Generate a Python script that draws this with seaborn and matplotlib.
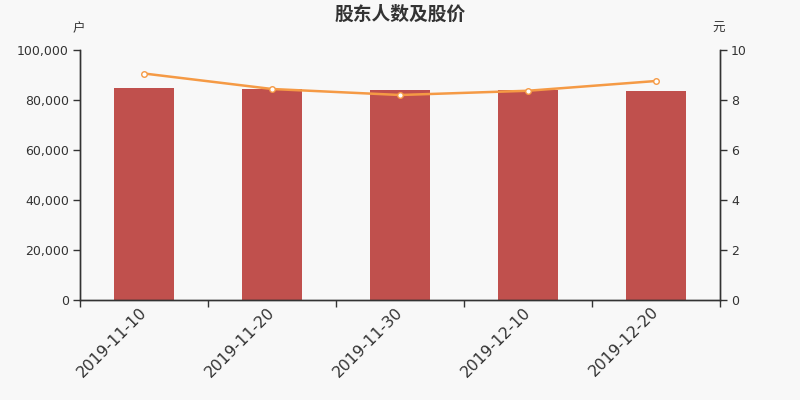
import matplotlib
matplotlib.use("Agg")
import matplotlib.pyplot as plt
import seaborn as sns
import pandas as pd

dates = ["2019-11-10", "2019-11-20", "2019-11-30", "2019-12-10", "2019-12-20"]
holders = [84650, 84400, 84000, 83950, 83600]
prices = [9.06, 8.44, 8.20, 8.37, 8.76]

sns.set_theme(style="white")
plt.rcParams['font.family'] = ['DejaVu Sans', 'Noto Sans CJK SC']

bg = "#f8f8f8"
txt = "#333333"
fig = plt.figure(figsize=(8, 4), dpi=100, facecolor=bg)
ax = fig.add_axes([0.1, 0.25, 0.8, 0.625], facecolor=bg)

df = pd.DataFrame({"date": dates, "holders": holders, "price": prices})
sns.barplot(data=df, x="date", y="holders", color="#c0504d", saturation=1,
            width=0.47, ax=ax, zorder=2, linewidth=0)
ax.set_xlim(-0.5, len(dates) - 0.5)
ax.set_ylim(0, 100000)
ax.set_yticks([0, 20000, 40000, 60000, 80000, 100000])
ax.set_yticklabels([f"{v:,}" for v in [0, 20000, 40000, 60000, 80000, 100000]],
                   fontsize=9, color=txt)
ax.set_xlabel("")
ax.set_ylabel("")
ax.set_xticks(range(len(dates)))
ax.set_xticklabels(dates, rotation=45, ha="right", va="center",
                   rotation_mode="anchor", fontsize=11.3, color=txt)
ax.tick_params(axis="x", which="major", length=0, pad=7)
ax.set_xticks([i - 0.5 for i in range(len(dates) + 1)], minor=True)
ax.tick_params(axis="x", which="minor", bottom=True, length=5, direction="out",
               color=txt, width=1)
ax.tick_params(axis="y", left=True, length=5, direction="out", color=txt, width=1, pad=3)

ax2 = ax.twinx()
sns.lineplot(data=df, x="date", y="price", ax=ax2, color="#f59a45", linewidth=1.8,
             marker="o", markersize=4, markerfacecolor="white",
             markeredgecolor="#f59a45", markeredgewidth=1, zorder=3)
ax2.set_ylim(0, 10)
ax2.set_yticks([0, 2, 4, 6, 8, 10])
ax2.set_yticklabels([str(v) for v in [0, 2, 4, 6, 8, 10]], fontsize=9, color=txt)
ax2.tick_params(axis="y", right=True, length=5, direction="out", color=txt, width=1, pad=3)
ax2.set_xlabel("")
ax2.set_ylabel("")
ax2.set_xlim(-0.5, len(dates) - 0.5)

for a in (ax, ax2):
    a.spines["top"].set_visible(False)
    for s in ("left", "right", "bottom"):
        a.spines[s].set_color(txt)
        a.spines[s].set_linewidth(1)
    a.grid(False)

fig.text(0.5, 0.965, "股东人数及股价", ha="center", va="center", fontsize=13.5,
         fontweight="bold", color=txt, family=["Noto Sans CJK SC"])
fig.text(0.098, 0.928, "户", ha="center", va="center", fontsize=9, color=txt,
         family=["Noto Sans CJK SC"])
fig.text(0.898, 0.928, "元", ha="center", va="center", fontsize=9, color=txt,
         family=["Noto Sans CJK SC"])

fig.savefig("out.png", dpi=100, facecolor=bg)
